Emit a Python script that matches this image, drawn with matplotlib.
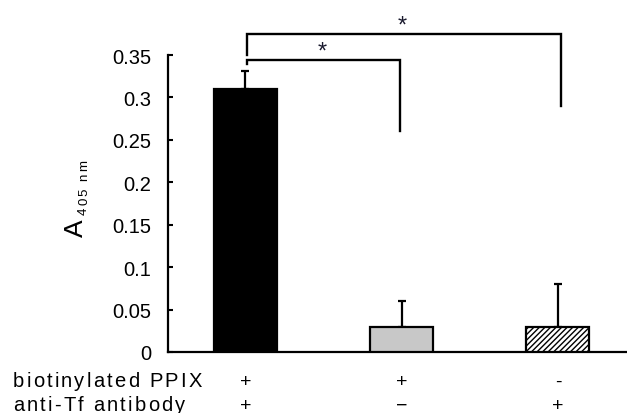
import matplotlib
matplotlib.use("Agg")
import matplotlib.pyplot as plt
from matplotlib.font_manager import FontProperties, findfont
from matplotlib.ft2font import FT2Font

# ---- data ----
categories = ["PPIX+/Ab+", "PPIX+/Ab-", "PPIX-/Ab+"]
values = [0.31, 0.03, 0.03]
errors = [0.021, 0.03, 0.05]
row1_label = "biotinylated PPIX"
row1_signs = ["+", "+", "-"]
row2_label = "anti-Tf antibody"
row2_signs = ["+", "\u2212", "+"]
yticks = [0, 0.05, 0.1, 0.15, 0.2, 0.25, 0.3, 0.35]
ytick_labels = ["0", "0.05", "0.1", "0.15", "0.2", "0.25", "0.3", "0.35"]
# significance brackets: (left bar, right bar, horizontal y, left drop y, right drop y)
brackets = [(0, 1, 0.344, 0.3394, 0.2604), (0, 2, 0.3747, 0.350, 0.290)]

W, H, DPI = 627, 414, 100
FAMILY = "Liberation Sans"
plt.rcParams["font.family"] = FAMILY
plt.rcParams["hatch.linewidth"] = 1.0

fig = plt.figure(figsize=(W / DPI, H / DPI), dpi=DPI)
ax = fig.add_axes([168 / W, 1 - 353 / H, 1 - 168 / W, (353 - 56) / H])

x = list(range(len(values)))
bw = 0.403
facecols = ["black", "#c8c8c8", "white"]
hatches = [None, None, "//////"]
for xi, v, fc, h in zip(x, values, facecols, hatches):
    ax.bar(xi, v, width=bw, color=fc, edgecolor="black", linewidth=1.6,
           hatch=h, zorder=3)
ax.errorbar(x, values, yerr=[[0] * len(values), errors], fmt="none",
            ecolor="black", elinewidth=1.6, capsize=3, capthick=1.6, zorder=2)

ax.set_xlim(-0.496, 2.442)
ax.set_ylim(0, 0.35)
ax.set_yticks(yticks)
ax.set_yticklabels(ytick_labels)
ax.set_xticks([])
ax.tick_params(axis="y", direction="in", length=3.6, width=1.5, pad=12,
               labelsize=14.5)
for s in ["top", "right"]:
    ax.spines[s].set_visible(False)
for s in ["left", "bottom"]:
    ax.spines[s].set_linewidth(1.6)

# brackets
for (a, b, yh, yl, yr) in brackets:
    xa = x[a] + 0.01
    xb = x[b] - 0.01 if b == 1 else x[b] + 0.02
    ax.plot([xa, xa, xb, xb], [yl, yh, yh, yr], color="black", lw=1.7,
            clip_on=False, solid_joinstyle="miter", zorder=4)
    ax.text((xa + xb) / 2 - 0.01, yh + 0.0095, "*", ha="center", va="center",
            fontsize=17, color="#1a1a2e", clip_on=False)


def advances(s, size_pt):
    f = FT2Font(findfont(FontProperties(family=FAMILY)))
    f.set_size(size_pt, 72)
    out = []
    for c in s:
        g = f.load_char(ord(c))
        out.append(g.linearHoriAdvance / 65536.0 * DPI / 72.0)
    return out


def spaced(s, x_px, y_px, size, gap_px, rotation=0):
    adv = advances(s, size)
    pos = 0.0
    for c, a in zip(s, adv):
        if rotation == 0:
            fig.text((x_px + pos) / W, 1 - y_px / H, c, fontsize=size,
                     ha="left", va="baseline")
        else:
            fig.text(x_px / W, 1 - (y_px - pos) / H, c, fontsize=size,
                     ha="left", va="baseline", rotation=90,
                     rotation_mode="anchor")
        pos += a + gap_px


# bottom condition rows
ROW1, ROW2 = 387, 411
spaced(row1_label, 13, ROW1, 14.5, 2.2)
spaced(row2_label, 13, ROW2, 14.5, 2.2)
for xi, s1, s2 in zip(x, row1_signs, row2_signs):
    xf = ax.transData.transform((xi, 0))[0] / W
    fig.text(xf, 1 - ROW1 / H, s1, fontsize=14, ha="center", va="baseline")
    fig.text(xf, 1 - ROW2 / H, s2, fontsize=14, ha="center", va="baseline")

# y label: A with subscript 405 nm
fig.text(83 / W, 1 - 237 / H, "A", fontsize=19, ha="left", va="baseline",
         rotation=90, rotation_mode="anchor")
spaced("405 nm", 87, 215, 9.5, 2.2, rotation=90)

fig.savefig("out.png", dpi=DPI)
